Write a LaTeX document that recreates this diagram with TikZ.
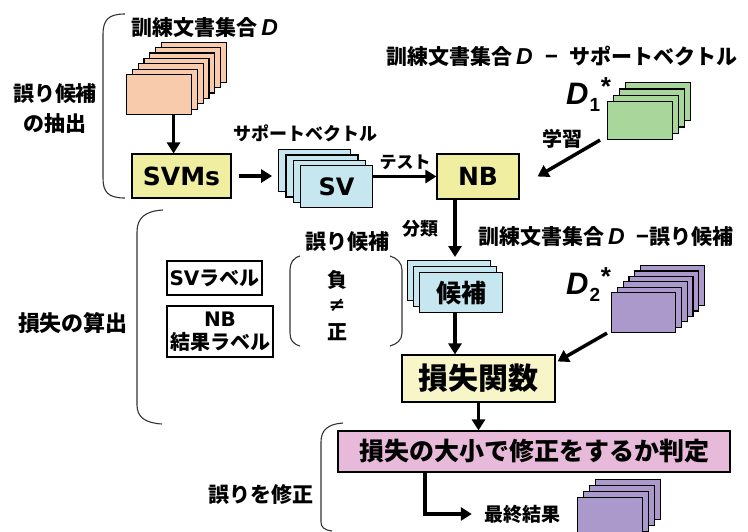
\documentclass[tikz,border=0pt]{standalone}
\usepackage{fontspec}
\setmainfont{Noto Sans CJK JP}
\newfontfamily\dfont{Liberation Sans}
\newfontfamily\lfont{DejaVu Sans}
\usetikzlibrary{arrows.meta}
\newcommand{\fsz}[1]{\fontsize{#1}{#1}\selectfont}
\definecolor{pinkc}{HTML}{F8CBAD}
\definecolor{yelc}{HTML}{F0EEA0}
\definecolor{bluec}{HTML}{C6E7EF}
\definecolor{greenc}{HTML}{A9D69A}
\definecolor{purc}{HTML}{AB99CB}
\definecolor{lossc}{HTML}{F8F6C9}
\definecolor{judgec}{HTML}{E8BADA}
\tikzset{
  arr/.style={line width=3.5pt,-{Triangle[length=11pt,width=13pt]}},
  sheet/.style={draw=black,line width=1.1pt,inner sep=0pt,anchor=north west},
  box/.style={draw=black,line width=1.1pt,inner sep=0pt},
  brace/.style={draw=black!80,line width=1.1pt},
  lbl/.style={inner sep=0pt,align=center,font=\bfseries\fsz{#1}},
  lbl/.default=21,
  bigD/.style={inner sep=0pt,anchor=base west,font=\dfont\bfseries\itshape\fsz{31}},
  star/.style={inner sep=0pt,anchor=base,font=\dfont\bfseries\fsz{26}},
  idx/.style={inner sep=0pt,anchor=base,font=\dfont\bfseries\fsz{19}}
}
\begin{document}
\begin{tikzpicture}[x=1pt,y=-1pt]
\useasboundingbox (0,0) rectangle (748,531);
% ---------- braces ----------
\draw[brace] (125,14) .. controls (108,14) and (103,20) .. (103,35) -- (103,178) .. controls (103,192) and (108,198) .. (125,198);
\draw[brace] (163,210) .. controls (145,211) and (137,218) .. (137,232) -- (137,405) .. controls (137,417) and (145,423) .. (162,424);
\draw[brace] (343,423) .. controls (328,424) and (321,430) .. (321,442) -- (321,522) .. controls (321,527) and (324,530) .. (332,531);
\draw[brace] (300,256) .. controls (293,258) and (290,263) .. (290,270) -- (290,333) .. controls (290,340) and (293,344) .. (300,346);
\draw[brace] (390,256) .. controls (397,258) and (402,263) .. (402,270) -- (402,333) .. controls (402,340) and (397,344) .. (390,346);
% ---------- left labels ----------
\node[lbl=21] (lab1) at (55,109) {誤り候補\\[9pt]の抽出};
\node[lbl=22] (lab2) at (73,323) {損失の算出};
\node[lbl=21] (lab3) at (261,494) {誤りを修正};
% ---------- training set D (pink) ----------
\node[lbl=21] (t1) at (205,28) {訓練文書集合\,{\dfont\bfseries\itshape\fsz{23}D}};
\foreach \i in {6,...,1}
  \node[sheet,fill=pinkc,minimum width=65pt,minimum height=40pt] (pink\i) at ({126+5.8*\i},{74-5.4*\i}) {};
\node[sheet,fill=pinkc,minimum width=65pt,minimum height=40pt] (pink) at (126,74) {};
% ---------- SVMs ----------
\node[box,fill=yelc,minimum width=99pt,minimum height=44pt,font=\lfont\bfseries\fsz{25}] (svms) at (181.5,176) {SVMs};
\draw[arr] ([xshift=14.5pt]pink.south) -- ([xshift=14.5pt]pink.south |- svms.north);
% ---------- SV stack ----------
\node[lbl=18] (t2) at (305,133) {サポートベクトル};
\foreach \i in {3,...,1}
  \node[sheet,fill=bluec,minimum width=72pt,minimum height=42pt] (sv\i) at ({300-7.3*\i},{165-5.3*\i}) {};
\node[sheet,fill=bluec,minimum width=72pt,minimum height=42pt,font=\lfont\bfseries\fsz{24}] (sv) at (300,165) {SV};
\draw[arr] ([xshift=7pt]svms.east) -- ([xshift=-6pt]sv3.west |- svms.east);
% ---------- NB ----------
\node[box,fill=yelc,minimum width=82pt,minimum height=45pt,font=\lfont\bfseries\fsz{25}] (nb) at (478,176.5) {NB};
\draw[arr] (sv.east |- nb.west) -- (nb.west);
\node[lbl=17] (test) at (405,162) {テスト};
% ---------- D1* (green) ----------
\node[lbl=21] (t3) at (562,56) {訓練文書集合\,{\dfont\bfseries\itshape\fsz{23}D}\hspace{13pt}−\hspace{11pt}サポートベクトル};
\foreach \i in {3,...,1}
  \node[sheet,fill=greenc,minimum width=65pt,minimum height=38pt] (green\i) at ({607+6*\i},{101-6.3*\i}) {};
\node[sheet,fill=greenc,minimum width=65pt,minimum height=38pt] (green) at (607,101) {};
\node[bigD] (d1) at (566,104) {D};
\node[star] (d1s) at (606,95) {*};
\node[idx] (d1n) at (595,111) {1};
\node[lbl=20] (learn) at (562,139) {学習};
\draw[arr] ([xshift=-7pt]green.south west) -- ([xshift=18pt]nb.east);
% ---------- candidates ----------
\coordinate (cx) at (455,0);
\node[lbl=18] (bunrui) at (420,229) {分類};
\node[lbl=21] (t4) at (606,237) {訓練文書集合\,{\dfont\bfseries\itshape\fsz{23}D}\hspace{12pt}−誤り候補};
\foreach \i in {2,1}
  \node[sheet,fill=bluec,minimum width=83pt,minimum height=40pt] (kouho\i) at ({419-6*\i},{272-6*\i}) {};
\node[sheet,fill=bluec,minimum width=83pt,minimum height=40pt,font=\bfseries\fsz{25}] (kouho) at (419,272) {候補};
\draw[arr] (nb.south -| cx) -- ([yshift=3pt]cx |- kouho2.north);
% ---------- labels in middle ----------
\node[box,fill=white,minimum width=95pt,minimum height=34pt,font=\bfseries\fsz{20}] (svl) at (214.5,278) {{\lfont SV}ラベル};
\node[box,fill=white,minimum width=106pt,minimum height=51pt,align=center,font=\bfseries\fontsize{20}{23}\selectfont] (nbl) at (220,331.5) {{\lfont NB}\\結果ラベル};
\node[lbl=21] (gk) at (347,242) {誤り候補};
\node[lbl=20] (neg) at (337,280) {負};
\node[inner sep=0pt,font=\lfont\bfseries\fsz{20}] (neq) at (337,305) {≠};
\node[lbl=20] (pos) at (337,332) {正};
% ---------- D2* (purple) ----------
\foreach \i in {5,...,1}
  \node[sheet,fill=purc,minimum width=64pt,minimum height=40pt] (pur\i) at ({611+5.8*\i},{292-5.4*\i}) {};
\node[sheet,fill=purc,minimum width=64pt,minimum height=40pt] (pur) at (611,292) {};
\node[bigD] (d2) at (566,294) {D};
\node[star] (d2s) at (606,285) {*};
\node[idx] (d2n) at (595,301) {2};
% ---------- loss ----------
\node[box,fill=lossc,minimum width=153pt,minimum height=47pt,font=\bfseries\fsz{30}] (loss) at (478.5,378.5) {損失関数};
\draw[arr] (kouho.south -| cx) -- (cx |- loss.north);
\draw[arr] ([xshift=-4pt]pur.south west) -- ([shift={(2pt,-7pt)}]loss.north east);
% ---------- judge ----------
\node[box,fill=judgec,minimum width=392pt,minimum height=41pt,font=\bfseries\fsz{25}] (judge) at (534,451.5) {損失の大小で修正をするか判定};
\draw[arr] (loss.south) -- (loss.south |- judge.north);
% ---------- final ----------
\coordinate (ex) at (425,0);
\node[lbl=19] (fin) at (522,514) {最終結果};
\draw[arr] (judge.south -| ex) |- ([xshift=-12pt]fin.west);
\foreach \i in {3,...,1}
  \node[sheet,fill=purc,minimum width=65pt,minimum height=40pt] (fpur\i) at ({577+6*\i},{497-6*\i}) {};
\node[sheet,fill=purc,minimum width=65pt,minimum height=40pt] (fpur) at (577,497) {};
\end{tikzpicture}
\end{document}
